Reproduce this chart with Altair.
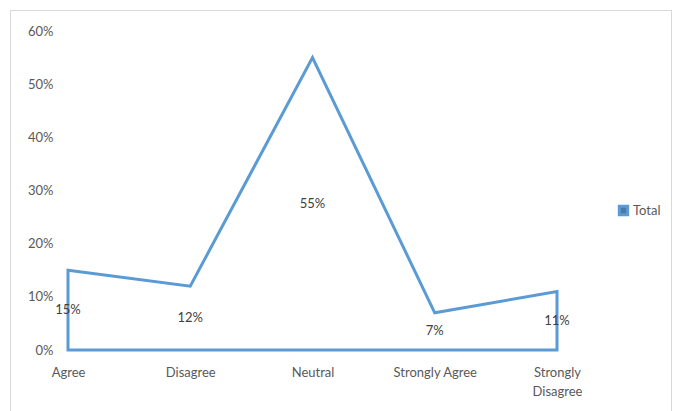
import altair as alt
import pandas as pd

categories = ["Agree", "Disagree", "Neutral", "Strongly Agree", "Strongly Disagree"]
values = [0.15, 0.12, 0.55, 0.07, 0.11]
series_name = ["Total"] * 5
y_ticks = [0, 0.1, 0.2, 0.3, 0.4, 0.5, 0.6]

df = pd.DataFrame({"cat": categories, "value": values, "series": series_name})

BLUE = "#5B9BD5"
GRAY = "#595959"
FONT = "Lato"

x_enc = alt.X(
    "cat:N",
    sort=categories,
    scale=alt.Scale(type="point", padding=0),
    axis=alt.Axis(
        title=None, domain=False, ticks=False, labelAngle=0, labelPadding=16,
        labelColor=GRAY, labelFont=FONT, labelFontSize=13, labelLineHeight=19,
        labelExpr="datum.label == 'Strongly Disagree' ? ['Strongly', 'Disagree'] : datum.label",
    ),
)

area = alt.Chart(df).mark_area(
    fillOpacity=0, strokeWidth=3, strokeJoin="miter"
).encode(
    x=x_enc,
    y=alt.Y(
        "value:Q",
        scale=alt.Scale(domain=[0, 0.6], nice=False),
        axis=alt.Axis(
            title=None, format=".0%", values=y_ticks, grid=False, domain=False,
            ticks=False, labelPadding=15, labelColor=GRAY, labelFont=FONT,
            labelFontSize=13,
        ),
    ),
    stroke=alt.Stroke(
        "series:N",
        scale=alt.Scale(range=[BLUE]),
        legend=alt.Legend(
            title=None, orient="none", legendX=549, legendY=173,
            symbolType="square", symbolFillColor="white", symbolStrokeColor=BLUE,
            symbolStrokeWidth=3, symbolSize=70, labelColor=GRAY, labelFont=FONT,
            labelFontSize=13, labelOffset=3,
        ),
    ),
)

labels = alt.Chart(df).transform_calculate(
    mid="datum.value / 2", lbl="format(datum.value, '.0%')"
).mark_text(color="#404040", font=FONT, fontSize=13).encode(
    x=alt.X("cat:N", sort=categories, scale=alt.Scale(type="point", padding=0)),
    y=alt.Y("mid:Q"),
    text="lbl:N",
)

border = alt.Chart(df).mark_rect(
    fillOpacity=0, stroke="#D9D9D9", strokeWidth=1
).encode(
    x=alt.value(-57.5), x2=alt.value(603.5), y=alt.value(-20.5), y2=alt.value(385)
)

chart = alt.layer(border, area, labels).properties(
    width=489, height=319,
    background="white",
    autosize=alt.AutoSizeParams(type="none"),
    padding={"left": 68, "top": 31, "right": 116, "bottom": 61},
).configure_view(stroke=None)

chart.save("out.html", embed_options={"renderer": "svg", "actions": False})
